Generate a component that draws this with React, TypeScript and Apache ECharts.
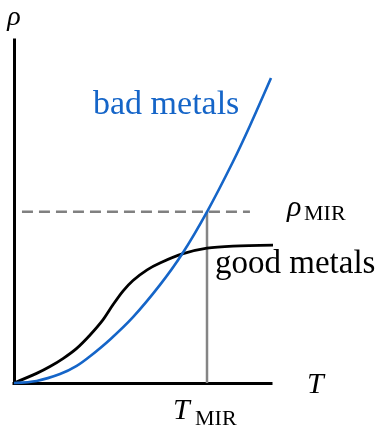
import React, { useEffect, useRef } from "react";
import * as echarts from "echarts";

// Temperature (arbitrary units, 0..10 along the T axis) and resistivity (0..10 along the rho axis)
const badT = [0, 0.88, 1.79, 2.44, 2.96, 3.74, 4.63, 5.68, 6.54, 7.51, 8.52, 9.18, 10.0];
const badRho = [0, 0.06, 0.26, 0.5, 0.78, 1.27, 1.92, 2.86, 3.76, 4.99, 6.45, 7.5, 8.89];

const goodT = [0, 0.88, 1.4, 1.92, 2.44, 2.96, 3.46, 3.85, 4.24, 4.63, 5.18, 5.68, 6.58, 7.51, 8.52, 10.16];
const goodRho = [0, 0.28, 0.48, 0.72, 1.01, 1.4, 1.84, 2.28, 2.68, 2.99, 3.3, 3.5, 3.77, 3.93, 3.99, 4.02];

const rhoMIR = 4.99;
const TMIR = 7.51;
const dashStartT = 0.31;
const dashEndT = 9.18;

const FONT = "Liberation Serif";
const BLUE = "#1565c8";

export default function App() {
  const ref = useRef<HTMLDivElement>(null);
  useEffect(() => {
    if (!ref.current) return;
    const chart = echarts.init(ref.current, undefined, { renderer: "svg" });
    const zip = (a: number[], b: number[]) => a.map((v, i) => [v, b[i]]);
    const txt = (text: string, x: number, y: number, size: number, opts: any = {}) => ({
      type: "text",
      x,
      y,
      style: {
        text,
        fontFamily: FONT,
        fontSize: size,
        fill: opts.fill || "#000",
        fontStyle: opts.italic ? "italic" : "normal",
        align: opts.align || "left",
        verticalAlign: "middle",
      },
    });
    chart.setOption({
      animation: false,
      grid: { left: 14, right: 111, top: 40, bottom: 47 },
      xAxis: {
        type: "value",
        min: 0,
        max: 10,
        axisLine: { show: true, lineStyle: { color: "#000", width: 3, cap: "square" } },
        axisTick: { show: false },
        axisLabel: { show: false },
        splitLine: { show: false },
      },
      yAxis: {
        type: "value",
        min: 0,
        max: 10,
        axisLine: { show: true, lineStyle: { color: "#000", width: 3, cap: "square" } },
        axisTick: { show: false },
        axisLabel: { show: false },
        splitLine: { show: false },
      },
      series: [
        {
          type: "line",
          data: [
            [dashStartT, rhoMIR],
            [dashEndT, rhoMIR],
          ],
          symbol: "none",
          lineStyle: { color: "#808080", width: 2.5, type: [11, 6] },
          clip: false,
          z: 1,
        },
        {
          type: "line",
          data: [
            [TMIR, 0],
            [TMIR, rhoMIR],
          ],
          symbol: "none",
          lineStyle: { color: "#858585", width: 2.5 },
          z: 1,
        },
        {
          type: "line",
          data: zip(goodT, goodRho),
          symbol: "none",
          smooth: 0.3,
          lineStyle: { color: "#000", width: 2.8 },
          clip: false,
          z: 2,
        },
        {
          type: "line",
          data: zip(badT, badRho),
          symbol: "none",
          smooth: 0.3,
          lineStyle: { color: BLUE, width: 2.6 },
          clip: false,
          z: 3,
        },
      ],
      graphic: [
        txt("ρ", 14, 15, 28, { italic: true, align: "center" }),
        txt("bad metals", 93, 102, 34, { fill: BLUE }),
        txt("good metals", 215, 262, 33),
        txt("ρ", 287, 205, 30, { italic: true }),
        txt("MIR", 304, 212, 22),
        txt("T", 307, 382, 30, { italic: true }),
        txt("T", 173, 408, 30, { italic: true }),
        txt("MIR", 195, 417, 22),
      ],
    });
    return () => chart.dispose();
  }, []);
  return (
    <div
      ref={ref}
      style={{ position: "fixed", left: 0, top: 0, width: 382, height: 430 }}
    />
  );
}
